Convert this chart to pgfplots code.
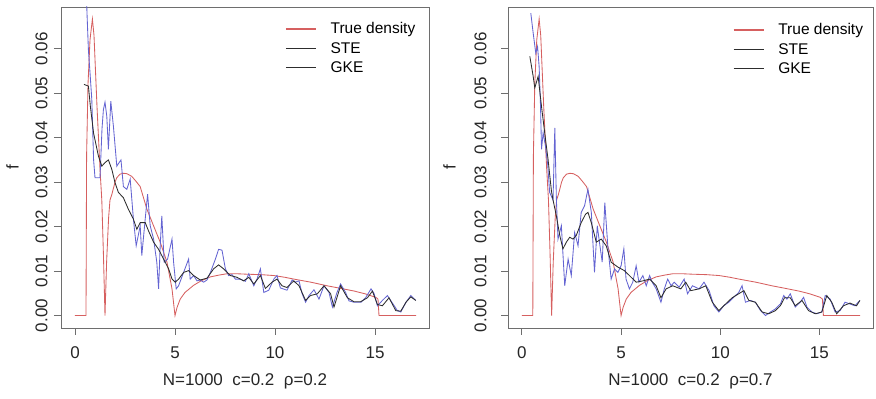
\documentclass[border=0pt]{standalone}
\usepackage{fontspec}
\setmainfont{Liberation Sans}
\usepackage{pgfplots}
\usepackage{pgfplotstable}
\pgfplotsset{compat=1.18}
\definecolor{truered}{RGB}{214,96,96}
\definecolor{gkeblue}{RGB}{100,100,210}
\definecolor{stegray}{RGB}{45,45,45}
\definecolor{boxgray}{RGB}{110,110,110}
\definecolor{txtgray}{RGB}{38,38,38}

\pgfplotstableread{
x y
0 0
0.55 0
0.58 0.036
0.65 0.052
0.75 0.062
0.87 0.0667
0.95 0.063
1.1 0.047
1.25 0.033
1.34 0.026
1.42 0.014
1.5 0
1.58 0.012
1.68 0.022
1.75 0.026
1.84 0.0272
2.0 0.0300
2.09 0.031
2.25 0.0318
2.42 0.0320
2.6 0.0319
2.84 0.0313
3.05 0.0302
3.26 0.0290
3.59 0.0240
3.9 0.0205
4.26 0.0165
4.6 0.0120
4.85 0.0060
5.0 0
5.1 0.0018
5.26 0.0037
5.5 0.0052
5.93 0.0068
6.3 0.0078
6.77 0.0087
7.2 0.0091
7.6 0.0094
8.1 0.0094
8.6 0.0093
9.3 0.0092
9.94 0.0090
10.5 0.0086
10.94 0.0082
11.8 0.0075
12.6 0.0067
13.3 0.0061
13.97 0.0055
14.5 0.0049
15.04 0.0041
15.15 0.0037
15.2 0
17.05 0
}\truedens

\pgfplotstableread{
x y
0.55 0.075
0.60 0.068
0.67 0.0598
0.76 0.054
0.84 0.0486
0.93 0.035
1.0 0.031
1.25 0.031
1.35 0.042
1.42 0.0463
1.5 0.048
1.59 0.0448
1.67 0.0374
1.79 0.0482
1.92 0.0426
2.09 0.0336
2.22 0.0345
2.3 0.035
2.42 0.029
2.59 0.0284
2.76 0.0307
2.92 0.0217
3.06 0.0157
3.26 0.0202
3.34 0.0135
3.51 0.0217
3.63 0.0273
3.76 0.0202
3.93 0.0172
4.09 0.012
4.18 0.006
4.26 0.0157
4.34 0.0224
4.46 0.012
4.63 0.0127
4.85 0.0172
4.93 0.012
5.06 0.006
5.18 0.0067
5.43 0.0097
5.68 0.0127
5.76 0.0082
5.93 0.009
6.1 0.0078
6.26 0.008
6.43 0.0075
6.6 0.008
6.77 0.0097
7.02 0.0127
7.18 0.0149
7.35 0.0147
7.52 0.0105
7.68 0.009
7.85 0.0092
8.02 0.0082
8.27 0.0082
8.52 0.0077
8.69 0.0094
8.94 0.0067
9.1 0.0082
9.27 0.0105
9.44 0.0052
9.69 0.0057
9.94 0.0082
10.1 0.009
10.27 0.0062
10.6 0.0057
10.86 0.008
11.0 0.0075
11.2 0.0078
11.35 0.005
11.53 0.003
11.7 0.0045
11.95 0.0058
12.2 0.0037
12.45 0.0067
12.7 0.0052
12.87 0.0019
13.1 0.0052
13.28 0.0071
13.53 0.0052
13.7 0.0033
13.95 0.003
14.3 0.003
14.53 0.004
14.8 0.006
14.95 0.005
15.12 0.0022
15.37 0.0034
15.62 0.0045
15.96 0.0022
16.12 0.0011
16.29 0.0008
16.55 0.003
16.79 0.0045
17.04 0.0034
}\gkeA

\pgfplotstableread{
x y
0.45 0.052
0.67 0.0516
0.77 0.047
0.93 0.041
1.17 0.0359
1.34 0.0336
1.5 0.0344
1.67 0.035
1.84 0.0329
2.0 0.0299
2.17 0.0277
2.42 0.0265
2.67 0.0239
2.92 0.0217
3.09 0.0194
3.26 0.0209
3.51 0.0209
3.68 0.019
3.93 0.0165
4.18 0.0149
4.43 0.0127
4.68 0.0105
4.85 0.0082
5.01 0.0075
5.18 0.0082
5.43 0.0097
5.68 0.0101
5.93 0.009
6.26 0.008
6.6 0.0084
6.93 0.0105
7.18 0.0114
7.43 0.0105
7.77 0.009
8.1 0.0086
8.43 0.0078
8.69 0.0086
8.94 0.0071
9.27 0.009
9.52 0.0061
9.85 0.0075
10.1 0.0082
10.35 0.0067
10.6 0.0063
10.94 0.0078
11.2 0.0067
11.53 0.0034
11.78 0.0045
12.12 0.0049
12.45 0.0067
12.78 0.0049
12.95 0.0019
13.28 0.0067
13.62 0.004
13.95 0.0031
14.28 0.0031
14.62 0.004
14.87 0.0055
15.12 0.0025
15.37 0.0022
15.7 0.004
16.04 0.0011
16.29 0.001
16.55 0.003
16.79 0.0042
17.04 0.0034
}\steA

\pgfplotstableread{
x y
0.45 0.068
0.57 0.0635
0.7 0.059
0.79 0.0605
0.87 0.056
0.94 0.047
0.99 0.0374
1.07 0.0411
1.19 0.0381
1.3 0.034
1.4 0.0277
1.57 0.026
1.66 0.0422
1.74 0.026
1.82 0.0172
1.99 0.0202
2.16 0.0067
2.33 0.0127
2.49 0.009
2.66 0.0187
2.83 0.0157
2.99 0.0232
3.16 0.0247
3.33 0.0284
3.5 0.0232
3.66 0.0097
3.8 0.0202
3.91 0.0165
4.05 0.012
4.18 0.0254
4.33 0.0157
4.5 0.0082
4.67 0.0105
4.84 0.0097
5.0 0.0112
5.14 0.015
5.25 0.0082
5.42 0.006
5.59 0.0075
5.76 0.0112
5.9 0.0075
6.1 0.009
6.27 0.0067
6.44 0.009
6.57 0.0075
6.77 0.006
7.01 0.003
7.18 0.006
7.35 0.0082
7.52 0.0067
7.68 0.0075
7.93 0.0064
8.18 0.0082
8.35 0.0049
8.6 0.0067
8.93 0.006
9.18 0.0075
9.44 0.0056
9.68 0.0022
9.93 0.0008
10.18 0.0022
10.43 0.003
10.77 0.0045
10.93 0.0052
11.1 0.0067
11.27 0.003
11.52 0.0034
11.77 0.003
12.03 0.0011
12.28 0.0
12.53 0.0008
12.78 0.0015
13.03 0.0026
13.2 0.0045
13.36 0.0037
13.53 0.0049
13.78 0.0019
14.03 0.003
14.2 0.0041
14.37 0.0019
14.62 0.0008
14.87 0.0004
15.12 0.0008
15.29 0.0045
15.54 0.0037
15.79 0.0008
16.04 0.0011
16.29 0.003
16.54 0.0026
16.79 0.0022
17.04 0.0034
}\gkeB

\pgfplotstableread{
x y
0.4 0.0583
0.57 0.0538
0.65 0.0512
0.82 0.0538
0.99 0.047
1.15 0.0411
1.32 0.0351
1.49 0.028
1.57 0.026
1.74 0.0224
1.91 0.018
2.07 0.015
2.24 0.0165
2.41 0.0176
2.58 0.0172
2.74 0.018
2.99 0.0209
3.21 0.0228
3.33 0.0232
3.5 0.0209
3.75 0.0165
4.0 0.0172
4.25 0.0157
4.5 0.012
4.84 0.0109
5.17 0.0101
5.42 0.009
5.76 0.0075
6.1 0.0078
6.44 0.0082
6.77 0.0067
7.01 0.004
7.27 0.006
7.6 0.0067
8.01 0.006
8.26 0.0075
8.51 0.0056
8.93 0.006
9.27 0.0067
9.6 0.003
9.93 0.0011
10.27 0.0026
10.6 0.004
10.93 0.0049
11.19 0.0056
11.44 0.0034
11.77 0.003
12.11 0.0008
12.44 0.0004
12.78 0.0011
13.03 0.0022
13.24 0.004
13.53 0.004
13.78 0.0022
14.12 0.0034
14.45 0.0011
14.79 0.0004
15.12 0.0008
15.37 0.0045
15.62 0.003
15.87 0.0004
16.21 0.0022
16.54 0.0028
16.87 0.0022
17.04 0.0034
}\steB

\pgfplotsset{
  rpanel/.style={
    scale only axis,
    height=321pt,
    xmin=-0.7, xmax=17.7,
    ymin=-0.0028, ymax=0.0694,
    scaled y ticks=false,
    scaled x ticks=false,
    axis line style={boxgray, line width=0.8pt},
    tick style={boxgray, line width=0.8pt},
    tick align=outside,
    major tick length=7pt,
    tick pos=left,
    xtick={0,5,10,15},
    xticklabels={0,5,10,15},
    ytick={0,0.01,0.02,0.03,0.04,0.05,0.06},
    yticklabels={0.00,0.01,0.02,0.03,0.04,0.05,0.06},
    ticklabel style={font=\fontsize{17}{20}\selectfont\color{txtgray}},
    yticklabel style={rotate=90, anchor=south},
    xticklabel shift=8pt,
    label style={font=\fontsize{17}{20}\selectfont\color{txtgray}},
    xlabel shift=8pt,
    ylabel={f},
    legend style={draw=none, fill=none, font=\fontsize{15.5}{20}\selectfont,
      anchor=north west, row sep=3pt, inner sep=0pt,
      /tikz/every odd column/.append style={column sep=12pt}},
    legend cell align=left,
    every axis plot/.append style={line width=0.85pt},
  },
  redleg/.style={legend image code/.code={\draw[draw=truered, line width=1.3pt] (0pt,0pt) -- (30pt,0pt);}},
  grayleg/.style={legend image code/.code={\draw[draw=stegray, line width=1pt] (0pt,0pt) -- (30pt,0pt);}},
}

\begin{document}
\begin{tikzpicture}
\path[use as bounding box] (0,0) rectangle (876pt,399pt);
\begin{axis}[rpanel,
  at={(61pt,71pt)}, anchor=south west, width=368pt,
  xlabel={N=1000\ \ c=0.2\ \ ρ=0.2},
  yticklabel shift=3pt,
  ylabel shift=10pt,
  legend style={at={(0.609,0.958)}},
]
\addlegendimage{redleg}
\addlegendentry{True density}
\addlegendimage{grayleg}
\addlegendentry{STE}
\addlegendimage{grayleg}
\addlegendentry{GKE}
\addplot[truered, forget plot] table[x=x,y=y] {\truedens};
\addplot[gkeblue, forget plot] table[x=x,y=y] {\gkeA};
\addplot[stegray, forget plot] table[x=x,y=y] {\steA};
\end{axis}
\begin{axis}[rpanel,
  at={(508pt,71pt)}, anchor=south west, width=365pt,
  xlabel={N=1000\ \ c=0.2\ \ ρ=0.7},
  yticklabel shift=11pt,
  ylabel shift=12pt,
  legend style={at={(0.616,0.955)}},
]
\addlegendimage{redleg}
\addlegendentry{True density}
\addlegendimage{grayleg}
\addlegendentry{STE}
\addlegendimage{grayleg}
\addlegendentry{GKE}
\addplot[truered, forget plot] table[x=x,y=y] {\truedens};
\addplot[gkeblue, forget plot] table[x=x,y=y] {\gkeB};
\addplot[stegray, forget plot] table[x=x,y=y] {\steB};
\end{axis}
\end{tikzpicture}
\end{document}
